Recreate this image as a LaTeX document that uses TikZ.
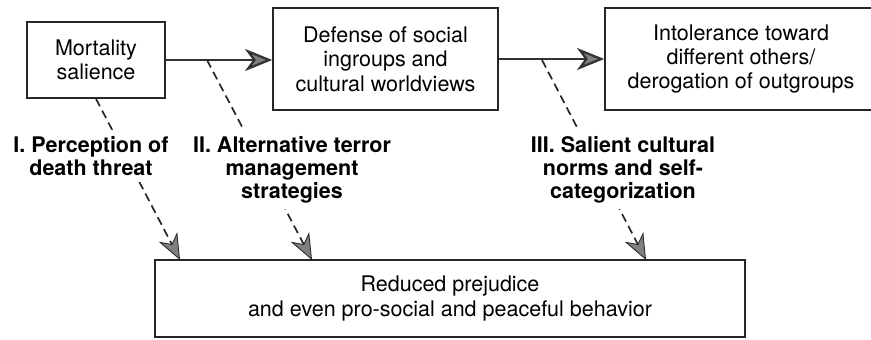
\documentclass[tikz,border=0pt]{standalone}
\usepackage{fontspec}
\setmainfont{TeX Gyre Heros}
\usetikzlibrary{arrows.meta}

\begin{document}
\begin{tikzpicture}[
  box/.style={draw=black!85,line width=1.1pt,align=center,inner sep=0pt,
    font=\fontsize{15.3}{17.4}\selectfont},
  lab/.style={fill=white,align=center,inner sep=0.15cm,anchor=north,
    font=\fontsize{15.3}{16.5}\selectfont\bfseries},
  mainarrow/.style={draw=black!80,line width=1.6pt,
    -{Stealth[length=0.68cm,width=0.55cm,inset=0.2cm,fill=black!50]}},
  dasharrow/.style={draw=black!85,line width=1.2pt,dash pattern=on 6pt off 3.5pt,
    -{Stealth[length=0.65cm,width=0.52cm,inset=0.2cm,fill=black!50,line width=0.6pt]}}
  ]
  \useasboundingbox (0,0) rectangle (21.775,8.475);
  \node[box,minimum width=3.45cm,minimum height=1.9cm] (ms) at (2.4,6.975) {Mortality\\salience};
  \node[box,minimum width=5.625cm,minimum height=2.55cm] (def) at (9.6375,7.0) {Defense of social\\ingroups and\\cultural worldviews};
  \node[box,minimum width=6.8cm,minimum height=2.55cm] (intol) at (18.525,7.0) {Intolerance toward\\different others/\\derogation of outgroups};
  \node[box,minimum width=14.75cm,minimum height=1.925cm] (red) at (11.25,1.0125) {Reduced prejudice\\and even pro-social and peaceful behavior};
  \draw[mainarrow] (ms.east) -- (ms.east -| def.west);
  \draw[mainarrow] (def.east) -- (intol.west);
  % paths to the reduced prejudice box
  \coordinate (sII) at (5.175,6.975);
  \coordinate (sIII) at (13.55,6.975);
  \coordinate (tI) at (4.5,1.975);
  \coordinate (tII) at (7.8,1.975);
  \coordinate (tIII) at (16.15,1.975);
  \draw[dasharrow] (ms.south) -- (tI);
  \draw[dasharrow] (sII) -- (tII);
  \draw[dasharrow] (sIII) -- (tIII);
  \node[lab] (labI) at (2.275,5.225) {I. Perception of\\death threat};
  \node[lab] (labII) at (7.3,5.225) {II. Alternative terror\\management\\strategies};
  \node[lab] (labIII) at (15.575,5.225) {III. Salient cultural\\norms and self-\\categorization};
\end{tikzpicture}
\end{document}
